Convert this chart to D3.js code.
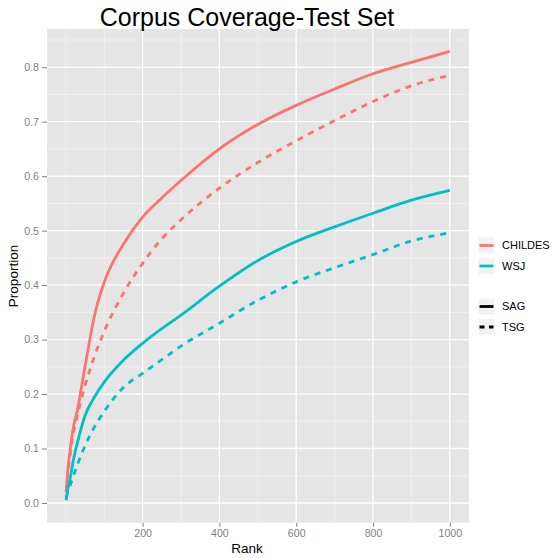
<!DOCTYPE html>
<html>
<head>
<meta charset="utf-8">
<script src="https://cdn.jsdelivr.net/npm/d3@7"></script>
<style>
  body { margin: 0; background: #fff; }
  svg { font-family: "Liberation Sans", Arial, sans-serif; }
</style>
</head>
<body>
<svg width="556" height="558"></svg>
<script>
// ranks sampled along the curves
const ranks = [1, 5, 10, 20, 30, 50, 75, 100, 150, 200, 250, 300, 400, 500, 600, 700, 800, 900, 1000];

// proportion covered
const childesSAG = [0.02, 0.06, 0.09, 0.14, 0.17, 0.25, 0.345, 0.405, 0.475, 0.525, 0.56, 0.592, 0.65, 0.695, 0.73, 0.760, 0.788, 0.809, 0.829];
const childesTSG = [0.02, 0.05, 0.08, 0.13, 0.16, 0.215, 0.27, 0.315, 0.385, 0.44, 0.485, 0.52, 0.578, 0.625, 0.665, 0.702, 0.737, 0.766, 0.785];
const wsjSAG = [0.005, 0.025, 0.04, 0.08, 0.11, 0.16, 0.195, 0.222, 0.262, 0.293, 0.32, 0.345, 0.398, 0.445, 0.48, 0.507, 0.532, 0.556, 0.574];
const wsjTSG = [0.01, 0.02, 0.03, 0.05, 0.07, 0.105, 0.14, 0.168, 0.212, 0.238, 0.263, 0.288, 0.33, 0.372, 0.406, 0.432, 0.456, 0.481, 0.496];

const corpora = ["CHILDES", "WSJ"];
const grammars = ["SAG", "TSG"];
const xTicks = [200, 400, 600, 800, 1000];
const yTicks = [0, 0.1, 0.2, 0.3, 0.4, 0.5, 0.6, 0.7, 0.8];

const series = [
  { corpus: "CHILDES", grammar: "SAG", values: childesSAG },
  { corpus: "CHILDES", grammar: "TSG", values: childesTSG },
  { corpus: "WSJ", grammar: "SAG", values: wsjSAG },
  { corpus: "WSJ", grammar: "TSG", values: wsjTSG }
];

const svg = d3.select("svg");
const panel = { left: 47, right: 469, top: 29, bottom: 522.7 };

const color = d3.scaleOrdinal().domain(corpora).range(["#F8766D", "#00BFC4"]);
const dash = d3.scaleOrdinal().domain(grammars).range(["none", "6,6"]);

// ggplot style 5% expansion
const allY = series.flatMap(s => s.values);
const xExt = d3.extent(ranks), yExt = d3.extent(allY);
const xPad = (xExt[1] - xExt[0]) * 0.05, yPad = (yExt[1] - yExt[0]) * 0.05;

const x = d3.scaleLinear()
  .domain([xExt[0] - xPad, xExt[1] + xPad])
  .range([panel.left, panel.right]);
const y = d3.scaleLinear()
  .domain([yExt[0] - yPad, yExt[1] + yPad])
  .range([panel.bottom, panel.top]);

const g = svg.append("g");

g.append("rect")
  .attr("x", panel.left)
  .attr("y", panel.top)
  .attr("width", panel.right - panel.left)
  .attr("height", panel.bottom - panel.top)
  .attr("fill", "#e5e5e5");

// minor grid, only inside the panel
const xMinor = d3.range(0, 1101, 100)
  .filter(v => !xTicks.includes(v) && v >= x.domain()[0] && v <= x.domain()[1]);
const yMinor = d3.range(0.05, 0.9, 0.1)
  .filter(v => v >= y.domain()[0] && v <= y.domain()[1]);

g.selectAll(".xminor")
  .data(xMinor)
  .enter()
  .append("line")
  .attr("x1", d => x(d)).attr("x2", d => x(d))
  .attr("y1", panel.top).attr("y2", panel.bottom)
  .attr("stroke", "#f2f2f2")
  .attr("stroke-width", 0.8);

g.selectAll(".yminor")
  .data(yMinor)
  .enter()
  .append("line")
  .attr("x1", panel.left).attr("x2", panel.right)
  .attr("y1", d => y(d)).attr("y2", d => y(d))
  .attr("stroke", "#f2f2f2")
  .attr("stroke-width", 0.8);

// major grid
g.selectAll(".xmajor")
  .data(xTicks)
  .enter()
  .append("line")
  .attr("x1", d => x(d)).attr("x2", d => x(d))
  .attr("y1", panel.top).attr("y2", panel.bottom)
  .attr("stroke", "#fff")
  .attr("stroke-width", 1.3);

g.selectAll(".ymajor")
  .data(yTicks)
  .enter()
  .append("line")
  .attr("x1", panel.left).attr("x2", panel.right)
  .attr("y1", d => y(d)).attr("y2", d => y(d))
  .attr("stroke", "#fff")
  .attr("stroke-width", 1.3);

// axes
const xAxis = svg.append("g")
  .attr("transform", `translate(0,${panel.bottom})`)
  .call(d3.axisBottom(x).tickValues(xTicks).tickSize(4).tickPadding(3).tickFormat(d3.format("d")));
const yAxis = svg.append("g")
  .attr("transform", `translate(${panel.left},0)`)
  .call(d3.axisLeft(y).tickValues(yTicks).tickSize(5).tickPadding(3).tickFormat(d3.format(".1f")));

[xAxis, yAxis].forEach(a => {
  a.select(".domain").remove();
  a.selectAll(".tick line").attr("stroke", "#7f7f7f").attr("stroke-width", 1);
  a.selectAll(".tick text")
    .attr("fill", "#7f7f7f")
    .attr("font-size", "10.6px")
    .attr("font-family", "Liberation Sans, Arial, sans-serif");
});

// lines
const line = d3.line()
  .x((d, i) => x(ranks[i]))
  .y(d => y(d))
  .curve(d3.curveMonotoneX);

g.selectAll(".series")
  .data(series)
  .enter()
  .append("path")
  .attr("d", d => line(d.values))
  .attr("fill", "none")
  .attr("stroke", d => color(d.corpus))
  .attr("stroke-width", 2.8)
  .attr("stroke-dasharray", d => dash(d.grammar));

// titles
svg.append("text")
  .attr("x", 247)
  .attr("y", 26)
  .attr("text-anchor", "middle")
  .attr("font-size", "25px")
  .text("Corpus Coverage-Test Set");

svg.append("text")
  .attr("x", 247)
  .attr("y", 553)
  .attr("text-anchor", "middle")
  .attr("font-size", "13.5px")
  .text("Rank");

svg.append("text")
  .attr("transform", "translate(18,276) rotate(-90)")
  .attr("text-anchor", "middle")
  .attr("font-size", "13.5px")
  .text("Proportion");

// legend
const legend = svg.append("g").attr("transform", "translate(478,0)");

const colorKeys = legend.selectAll(".ckey")
  .data(corpora)
  .enter()
  .append("g")
  .attr("transform", (d, i) => `translate(0,${237 + i * 20.5})`);

colorKeys.append("rect")
  .attr("width", 17).attr("height", 17)
  .attr("fill", "#f2f2f2").attr("stroke", "#fff");
colorKeys.append("line")
  .attr("x1", 1.5).attr("x2", 15.5)
  .attr("y1", 8.5).attr("y2", 8.5)
  .attr("stroke", d => color(d))
  .attr("stroke-width", 2.8);
colorKeys.append("text")
  .attr("x", 24).attr("y", 8.5)
  .attr("dy", "0.35em")
  .attr("font-size", "11px")
  .text(d => d);

const dashKeys = legend.selectAll(".dkey")
  .data(grammars)
  .enter()
  .append("g")
  .attr("transform", (d, i) => `translate(0,${298 + i * 20.5})`);

dashKeys.append("rect")
  .attr("width", 17).attr("height", 17)
  .attr("fill", "#f2f2f2").attr("stroke", "#fff");
dashKeys.append("line")
  .attr("x1", 1.5).attr("x2", 15.5)
  .attr("y1", 8.5).attr("y2", 8.5)
  .attr("stroke", "#000")
  .attr("stroke-width", 2.8)
  .attr("stroke-dasharray", d => dash(d) === "none" ? null : "5,4.5");
dashKeys.append("text")
  .attr("x", 24).attr("y", 8.5)
  .attr("dy", "0.35em")
  .attr("font-size", "11px")
  .text(d => d);
</script>
</body>
</html>
